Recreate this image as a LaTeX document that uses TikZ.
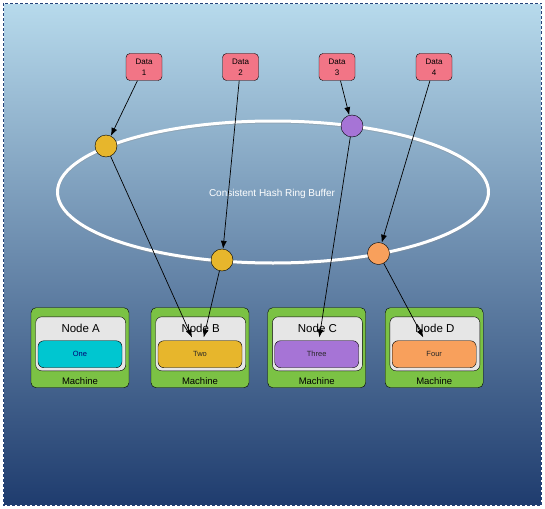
\documentclass[tikz,border=0pt]{standalone}
\usepackage{fontspec}
\setmainfont{Liberation Sans}
\usepackage{tikz}
\usetikzlibrary{shapes.geometric, arrows.meta}

\definecolor{bgtop}{HTML}{B7DAEC}
\definecolor{bgbottom}{HTML}{1F3C6E}
\definecolor{bgline}{HTML}{24437A}
\definecolor{datared}{HTML}{F27586}
\definecolor{hashyellow}{HTML}{E7B62C}
\definecolor{hashpurple}{HTML}{A674D6}
\definecolor{hashorange}{HTML}{F8A05C}
\definecolor{machgreen}{HTML}{7BC244}
\definecolor{hostgray}{HTML}{E6E6E6}
\definecolor{slotcyan}{HTML}{00C6D0}

\begin{document}
\begin{tikzpicture}[x=1pt, y=-1pt, >={Latex[length=8pt, width=6pt]}]

    % Define styles
    \tikzstyle{data} = [rectangle, rounded corners=4pt, minimum width=36pt, minimum height=27pt, inner sep=1pt, align=center, draw=black, fill=datared, font=\fontsize{8}{11}\selectfont]
    \tikzstyle{ring} = [ellipse, minimum width=431pt, minimum height=142pt, inner sep=0pt, draw=white, line width=3pt, preaction={draw=black!45, line width=3pt, opacity=0.35, transform canvas={yshift=-1pt}}]
    \tikzstyle{ringtext} = [text=white, font=\fontsize{10}{12}\selectfont]
    \tikzstyle{hash} = [circle, minimum size=22pt, inner sep=0pt, draw=black, thin]
    \tikzstyle{machine} = [rectangle, rounded corners=5pt, minimum width=98pt, minimum height=80pt, draw=black, fill=machgreen, label={[anchor=south, inner sep=3pt, font=\fontsize{9.5}{11}\selectfont]south:Machine}]
    \tikzstyle{host} = [rectangle, rounded corners=6pt, minimum width=90pt, minimum height=54pt, draw=black, fill=hostgray]
    \tikzstyle{hostname} = [inner sep=0pt, font=\fontsize{11.5}{13}\selectfont]
    \tikzstyle{slot} = [rectangle, rounded corners=6pt, minimum width=84pt, minimum height=27pt, draw=black, font=\fontsize{7.5}{9}\selectfont]
    \tikzstyle{link} = [->, line width=0.7pt]

    % Background
    \useasboundingbox (0,0) rectangle (545,508);
    \shade [top color=bgtop, bottom color=bgbottom] (3.5,3.5) rectangle (541.5,505);
    \draw [white, line width=1pt] (3.5,3.5) rectangle (541.5,505);
    \draw [bgline, line width=1pt, dash pattern=on 3pt off 2pt] (3.5,3.5) rectangle (541.5,505);

    % Ring
    \node (ring) [ring] at (273,192) {};
    \node (ringlabel) [ringtext] at (272,194) {Consistent Hash Ring Buffer};

    % Data
    \node (data1) [data] at (144,67) {Data\\1};
    \node (data2) [data] at (240.5,67) {Data\\2};
    \node (data3) [data] at (337,67) {Data\\3};
    \node (data4) [data] at (434,67) {Data\\4};

    % Hash points
    \node (hash1) [hash, fill=hashyellow] at (106,146) {};
    \node (hash2) [hash, fill=hashyellow] at (222,260) {};
    \node (hash3) [hash, fill=hashpurple] at (352,126) {};
    \node (hash4) [hash, fill=hashorange] at (378.5,253.5) {};

    % Machines
    \node (machA) [machine] at (80,347.7) {};
    \node (hostA) [host] at (80.7,343.8) {};
    \node (nameA) [hostname] at (80.7,328.3) {Node A};
    \node (slotA) [slot, fill=slotcyan, text=blue!45!black] at (80,354.2) {One};

    \node (machB) [machine] at (200,347.7) {};
    \node (hostB) [host] at (200.7,343.8) {};
    \node (nameB) [hostname] at (200.7,328.3) {Node B};
    \node (slotB) [slot, fill=hashyellow, text=black!85] at (200,354.2) {Two};

    \node (machC) [machine] at (316.7,347.7) {};
    \node (hostC) [host] at (317.4,343.8) {};
    \node (nameC) [hostname] at (317.4,328.3) {Node C};
    \node (slotC) [slot, fill=hashpurple, text=black!85] at (316.7,354.2) {Three};

    \node (machD) [machine] at (434.2,347.7) {};
    \node (hostD) [host] at (434.9,343.8) {};
    \node (nameD) [hostname] at (434.9,328.3) {Node D};
    \node (slotD) [slot, fill=hashorange, text=black!85] at (434.2,354.2) {Four};

    % Arrow ends
    \coordinate (endB1) at (192,337.5);
    \coordinate (endB2) at (203.7,337.5);
    \coordinate (endC) at (319.3,337.5);
    \coordinate (endD) at (423.3,337.5);

    % Arrows
    \draw [link] (data1) -- (hash1);
    \draw [link] (data2) -- (hash2);
    \draw [link] (data3) -- (hash3);
    \draw [link] (data4) -- (hash4);
    \draw [link] (hash1) -- (endB1);
    \draw [link] (hash2) -- (endB2);
    \draw [link] (hash3) -- (endC);
    \draw [link] (hash4) -- (endD);

\end{tikzpicture}
\end{document}
